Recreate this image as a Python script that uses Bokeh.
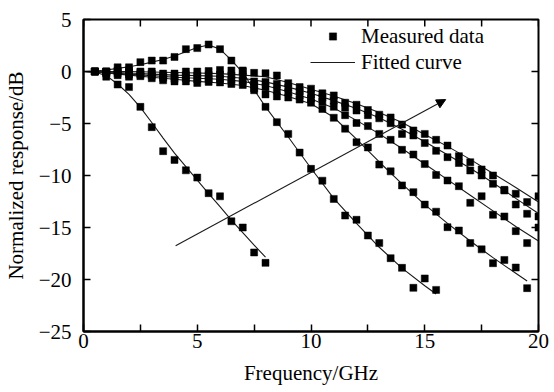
import math
from bokeh.plotting import figure
from bokeh.models import (Range1d, FixedTicker, Legend, LegendItem,
                          Arrow, NormalHead)
from bokeh.embed import file_html
from bokeh.resources import INLINE

FONT = "Liberation Serif"

# ---------------- measured data (GHz, dB) ----------------
freq_full = [0.5, 1.0, 1.5, 2.0, 2.5, 3.0, 3.5, 4.0, 4.5, 5.0,
             5.5, 6.0, 6.5, 7.0, 7.5, 8.0, 8.5, 9.0, 9.5, 10.0,
             10.5, 11.0, 11.5, 12.0, 12.5, 13.0, 13.5, 14.0, 14.5, 15.0,
             15.5, 16.0, 16.5, 17.0, 17.5, 18.0, 18.5, 19.0, 19.5, 20.0]
freq_a = freq_full[:16]
freq_b = freq_full[:31]
freq_c = freq_full[:39]
freq_d = freq_full
freq_e = freq_full
freq_f = freq_full

resp_a = [0, -0.5, -1.25, -1.5, -3.4, -5.35, -7.66, -8.5, -9.5, -10.2,
          -11.7, -12.0, -14.4, -15.0, -17.4, -18.4]
resp_b = [0, 0, 0.4, 0.4, 0.9, 1.05, 1.05, 1.4, 2.15, 2.25,
          2.6, 2.15, 1.05, 0.1, -1.8, -3.4, -4.87, -6.0, -7.8, -9.36,
          -10.5, -12.25, -13.85, -14.26, -15.77, -16.5, -17.95, -18.88, -20.8, -19.9,
          -21.0]
resp_c = [0, -0.2, -0.35, -0.5, -0.45, -0.65, -0.85, -0.95, -0.95, -1.1,
          -1.0, -1.05, -1.2, -1.3, -1.6, -2.2, -2.4, -2.5, -2.7, -3.0,
          -3.6, -4.45, -5.5, -6.8, -7.3, -8.95, -9.6, -10.95, -11.6, -12.8,
          -13.48, -14.97, -15.29, -16.5, -17.1, -18.43, -18.12, -18.85, -20.83]
resp_d = [0, -0.1, -0.15, -0.3, -0.3, -0.4, -0.6, -0.7, -0.65, -0.75,
          -0.7, -0.7, -0.8, -0.9, -1.25, -1.5, -1.8, -2.0, -2.3, -2.6,
          -2.9, -3.4, -4.2, -4.95, -5.25, -6.0, -6.57, -7.53, -7.98, -8.9,
          -9.95, -10.48, -11.03, -12.63, -11.99, -13.78, -13.94, -15.35, -16.5, -15.0]
resp_e = [0, 0, 0, -0.1, -0.15, -0.2, -0.4, -0.45, -0.35, -0.4,
          -0.35, -0.3, -0.4, -0.5, -0.95, -1.0, -1.2, -1.57, -1.9, -2.2,
          -2.5, -2.8, -3.45, -3.75, -4.2, -4.5, -4.97, -6.0, -6.15, -6.88,
          -7.63, -8.24, -8.8, -9.52, -10.0, -10.8, -11.44, -12.79, -13.68, -13.94]
resp_f = [0, 0, 0.1, 0.1, 0, 0, -0.2, -0.2, 0, 0,
          0.05, 0.15, 0.1, 0, -0.13, -0.16, -0.38, -1.12, -1.5, -1.65,
          -2.1, -2.3, -3.0, -3.2, -3.7, -4.15, -4.42, -5.1, -5.67, -6.0,
          -6.57, -7.12, -8.14, -8.72, -9.42, -10.0, -11.38, -11.76, -12.56, -12.0]

# ---------------- fitted curves ----------------
fit_a_x = [0, 0.5, 1, 1.5, 2, 2.5, 3, 3.5, 4, 4.5, 5, 5.5, 6, 6.5, 7, 7.5, 8]
fit_a = [0, -0.05, -0.4, -1.2, -2.2, -3.45, -4.9, -6.4, -7.85, -9.15,
         -10.45, -11.75, -13.0, -14.3, -15.5, -16.7, -17.85]
fit_b_x = [0, 0.5, 1, 1.5, 2, 2.5, 3, 3.5, 4, 4.5, 5, 5.5, 6, 6.5, 7, 7.5, 8,
           9, 10, 11, 12, 13, 14, 15, 15.5]
fit_b = [0, 0.05, 0.15, 0.3, 0.45, 0.65, 0.9, 1.15, 1.5, 1.9, 2.3, 2.55, 2.15,
         1.1, -0.1, -1.75, -3.4, -6.3, -9.3, -12.2, -14.6, -16.9, -18.9, -20.6, -21.4]
fit_c_x = [0, 1, 2, 3, 4, 5, 6, 7, 8, 9, 10, 11, 12, 13, 14, 15, 16, 17, 18, 19, 19.5]
fit_c = [0, -0.15, -0.35, -0.55, -0.75, -0.95, -1.1, -1.35, -1.8, -2.4, -3.1,
         -4.4, -6.5, -8.7, -10.8, -12.8, -14.6, -16.3, -17.9, -19.4, -20.15]
fit_x = [0, 1, 2, 3, 4, 5, 6, 7, 8, 9, 10, 11, 12, 13, 14, 15, 16, 17, 18, 19, 20]
fit_d = [0, -0.1, -0.25, -0.4, -0.55, -0.65, -0.75, -0.95, -1.35, -1.95, -2.65,
         -3.5, -4.7, -6.0, -7.4, -8.9, -10.4, -11.9, -13.4, -14.9, -16.3]
fit_e = [0, -0.05, -0.15, -0.25, -0.35, -0.4, -0.45, -0.65, -1.0, -1.5, -2.1,
         -2.8, -3.55, -4.45, -5.55, -6.75, -8.0, -9.3, -10.7, -12.2, -13.65]
fit_f = [0, 0, 0, -0.05, -0.1, -0.15, -0.2, -0.35, -0.5, -1.05, -1.7,
         -2.35, -3.1, -3.95, -4.9, -6.05, -7.2, -8.45, -9.8, -11.15, -12.55]

# arrow (direction of increasing bandwidth)
arrow_x = [4.05, 15.92]
arrow_y = [-16.75, -2.7]

# axes
x_min, x_max = 0, 20
y_min, y_max = -25, 5
x_major = [0, 5, 10, 15, 20]
x_minor = [2.5, 7.5, 12.5, 17.5]
y_major = [-25, -20, -15, -10, -5, 0, 5]
y_labels = {-25: "\u221225", -20: "\u221220", -15: "\u221215", -10: "\u221210",
            -5: "\u22125", 0: "0", 5: "5"}

p = figure(width=554, height=392, output_backend="svg", toolbar_location=None,
           x_range=Range1d(x_min, x_max), y_range=Range1d(y_min, y_max),
           min_border_left=80, min_border_right=16, min_border_top=19,
           min_border_bottom=61, background_fill_color="white",
           border_fill_color="white")
p.xgrid.visible = False
p.ygrid.visible = False
p.outline_line_color = "black"
p.outline_line_width = 2

fits = [(fit_a_x, fit_a), (fit_b_x, fit_b), (fit_c_x, fit_c),
        (fit_x, fit_d), (fit_x, fit_e), (fit_x, fit_f)]
line_r = None
for fx, fy in fits:
    r = p.line(fx, fy, line_color="#1a1a1a", line_width=1.1)
    if line_r is None:
        line_r = r

meas = [(freq_a, resp_a), (freq_b, resp_b), (freq_c, resp_c),
        (freq_d, resp_d), (freq_e, resp_e), (freq_f, resp_f)]
sq_r = None
for mx, my in meas:
    r = p.scatter(mx, my, marker="square", size=7, fill_color="black",
                  line_color="black", line_width=0.5)
    if sq_r is None:
        sq_r = r

p.add_layout(Arrow(end=NormalHead(size=9, fill_color="black", line_color="black",
                                  line_width=1),
                   x_start=arrow_x[0], y_start=arrow_y[0],
                   x_end=arrow_x[1], y_end=arrow_y[1],
                   line_color="#1a1a1a", line_width=1.1))

# inward ticks on the top and right frame edges (half of each dash is clipped)
top_ticks = x_major + x_minor
p.scatter(top_ticks, [y_max] * len(top_ticks), marker="dash", size=14,
          angle=math.pi / 2, line_color="black", line_width=1.5)
p.scatter([x_max] * len(y_major), y_major, marker="dash", size=14,
          line_color="black", line_width=1.5)

def style_axis(ax, ticker):
    ax.ticker = ticker
    ax.axis_line_color = "black"
    ax.axis_line_width = 2
    ax.major_tick_in = 7
    ax.major_tick_out = 0
    ax.minor_tick_in = 7
    ax.minor_tick_out = 0
    ax.major_tick_line_width = 1.5
    ax.minor_tick_line_width = 1.5
    ax.major_tick_line_color = "black"
    ax.minor_tick_line_color = "black"
    ax.major_label_text_font = FONT
    ax.major_label_text_color = "black"
    ax.major_label_text_font_size = "21px"
    ax.axis_label_text_font = FONT
    ax.axis_label_text_font_size = "21px"
    ax.axis_label_text_font_style = "normal"
    ax.axis_label_text_color = "black"

style_axis(p.xaxis[0], FixedTicker(ticks=x_major, minor_ticks=x_minor))
p.xaxis[0].axis_label = "Frequency/GHz"
p.xaxis[0].major_label_standoff = 2
p.xaxis[0].axis_label_standoff = 10

style_axis(p.yaxis[0], FixedTicker(ticks=y_major, minor_ticks=[]))
p.yaxis[0].axis_label = "Normalized response/dB"
p.yaxis[0].major_label_standoff = 12
p.yaxis[0].axis_label_standoff = 8
p.yaxis[0].major_label_overrides = y_labels

legend = Legend(items=[LegendItem(label="Measured data", renderers=[sq_r]),
                       LegendItem(label="Fitted curve", renderers=[line_r])],
                location=(227, 256), orientation="vertical",
                glyph_width=45, glyph_height=18, label_height=26,
                label_standoff=6, spacing=0, padding=0, margin=0,
                label_text_font=FONT, label_text_font_size="21px",
                label_text_color="black", border_line_color=None,
                background_fill_alpha=0)
p.add_layout(legend)

open("out.html", "w").write(file_html(p, INLINE))
